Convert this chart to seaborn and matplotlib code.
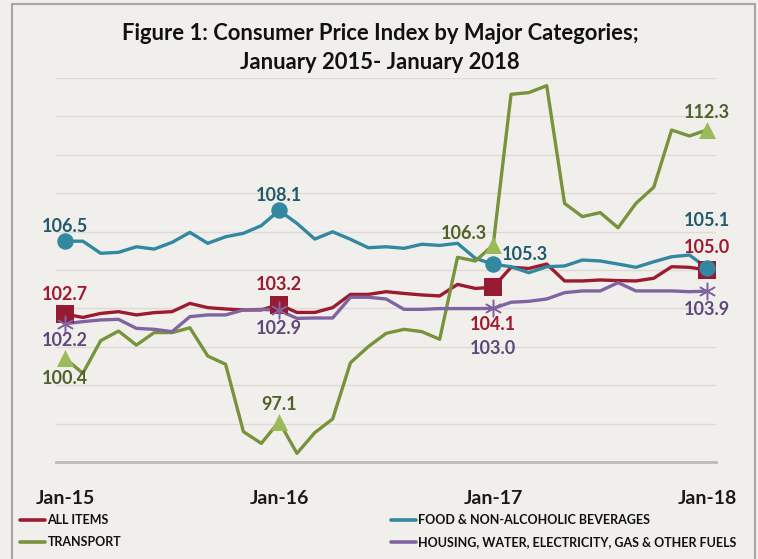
import numpy as np
import pandas as pd
import matplotlib
matplotlib.use("Agg")
import matplotlib.pyplot as plt
import seaborn as sns
from matplotlib.lines import Line2D
from matplotlib.patches import Rectangle

# ---------------- data ----------------
tick_labels = ["Jan-15", "Jan-16", "Jan-17", "Jan-18"]
tick_months = [0, 12, 24, 36]
series_names = ["ALL ITEMS", "FOOD & NON-ALCOHOLIC BEVERAGES", "TRANSPORT",
                "HOUSING, WATER, ELECTRICITY, GAS & OTHER FUELS"]

all_items = [102.7, 102.53, 102.74, 102.83, 102.66, 102.78, 102.83, 103.26, 103.04,
             102.97, 102.92, 102.92, 103.2, 102.79, 102.79, 103.04, 103.73, 103.73,
             103.87, 103.78, 103.7, 103.65, 104.25, 104.04, 104.1, 105.14, 105.08,
             105.31, 104.43, 104.43, 104.48, 104.45, 104.43, 104.57, 105.17, 105.14,
             105.0]
food = [106.5, 106.5, 105.87, 105.92, 106.21, 106.09, 106.44, 106.96, 106.39,
        106.73, 106.91, 107.31, 108.1, 107.43, 106.61, 106.99, 106.6, 106.16,
        106.21, 106.13, 106.34, 106.28, 106.39, 105.61, 105.3, 105.17, 104.86,
        105.17, 105.21, 105.52, 105.47, 105.31, 105.14, 105.43, 105.69, 105.78,
        105.1]
transport = [100.4, 99.62, 101.32, 101.82, 101.09, 101.74, 101.74, 101.99, 100.52,
             100.09, 96.58, 95.97, 97.1, 95.45, 96.53, 97.24, 100.17, 101.01,
             101.7, 101.91, 101.79, 101.39, 105.66, 105.47, 106.3, 114.15, 114.24,
             114.6, 108.47, 107.78, 107.99, 107.2, 108.47, 109.31, 112.29, 111.98,
             112.3]
housing = [102.2, 102.31, 102.4, 102.43, 101.96, 101.91, 101.79, 102.57, 102.66,
           102.66, 102.92, 102.95, 102.9, 102.48, 102.5, 102.5, 103.58, 103.58,
           103.49, 102.95, 102.95, 102.99, 102.99, 102.99, 103.0, 103.32, 103.37,
           103.49, 103.82, 103.91, 103.91, 104.34, 103.91, 103.91, 103.91, 103.87,
           103.9]
months = list(range(len(all_items)))

# ---------------- style ----------------
BG = "#F1EFEC"
line_colors = {series_names[0]: "#9B1B30", series_names[1]: "#3188A0",
               series_names[2]: "#77933C", series_names[3]: "#8064A2"}
marker_colors = {series_names[0]: "#961A32", series_names[1]: "#3188A0",
                 series_names[2]: "#9BBB59", series_names[3]: "#8064A2"}
label_colors = {series_names[0]: "#9B1B30", series_names[1]: "#215B6B",
                series_names[2]: "#4F6228", series_names[3]: "#5F497A"}
markers = {series_names[0]: "s", series_names[1]: "o",
           series_names[2]: "^", series_names[3]: (6, 2, 0)}
msizes = {series_names[0]: 160, series_names[1]: 140,
          series_names[2]: 150, series_names[3]: 140}
# label offsets in pixels (dx right, dy up) for Jan-15, Jan-16, Jan-17, Jan-18
label_offsets = {
    series_names[0]: [(0, 20), (0, 20), (0, -37), (0, 22)],
    series_names[1]: [(0, 15), (0, 15), (32, 10), (0, 48)],
    series_names[2]: [(0, -20), (0, 17), (-29, 12), (0, 17)],
    series_names[3]: [(0, -17), (0, -18), (0, -40), (0, -18)],
}

sns.set_style("white")
plt.rcParams["font.family"] = ["Lato", "DejaVu Sans"]

df = pd.DataFrame({
    "month": months * 4,
    "value": all_items + food + transport + housing,
    "series": sum([[n] * len(months) for n in series_names], []),
})

fig = plt.figure(figsize=(7.58, 5.59), dpi=100, facecolor=BG)
ax = fig.add_axes([56.1 / 758, (559 - 462) / 559, 660.1 / 758, 384 / 559])
ax.set_facecolor(BG)

for i, name in enumerate(series_names):
    sub = df[df.series == name]
    sns.lineplot(data=sub, x="month", y="value", color=line_colors[name],
                 linewidth=2.4, ax=ax, legend=False, zorder=3 + i)

for i, name in enumerate(series_names):
    sub = df[(df.series == name) & (df.month.isin(tick_months))]
    kw = dict(edgecolor=marker_colors[name], linewidth=0) if name != series_names[3] \
        else dict(linewidth=1.1)
    sns.scatterplot(data=sub, x="month", y="value", marker=markers[name],
                    color=marker_colors[name], s=msizes[name], ax=ax,
                    legend=False, zorder=10 + i, **kw)
    for (m, v), (dx, dy) in zip(zip(sub.month, sub.value), label_offsets[name]):
        ax.annotate(f"{v:.1f}", (m, v), xytext=(dx * 0.72, dy * 0.72),
                    textcoords="offset points", ha="center", va="center",
                    color=label_colors[name], fontsize=13, fontweight="bold",
                    zorder=20)

ax.set_xlim(-0.5, 36.5)
ax.set_ylim(95, 115)
ax.set_yticks(np.arange(95, 116, 2))
ax.set_yticklabels([])
ax.set_xticks(tick_months)
ax.set_xticklabels(tick_labels, fontsize=14, fontweight="bold", color="#1a1a1a")
ax.tick_params(axis="x", length=0, pad=20)
ax.tick_params(axis="y", length=0)
ax.grid(axis="y", color="#DDDAD6", linewidth=1)
ax.grid(axis="x", visible=False)
ax.set_xlabel("")
ax.set_ylabel("")
for s in ["left", "top", "right"]:
    ax.spines[s].set_visible(False)
ax.spines["bottom"].set_color("#BDBBB8")
ax.spines["bottom"].set_linewidth(2)
ax.spines["bottom"].set_zorder(2)

# title
fig.text(380 / 758, 1 - 33 / 559, "Figure 1: Consumer Price Index by Major Categories;",
         ha="center", va="center", fontsize=15.8, fontweight="bold", color="#111111")
fig.text(380 / 758, 1 - 62 / 559, "January 2015- January 2018",
         ha="center", va="center", fontsize=15.8, fontweight="bold", color="#111111")

# legends (two columns)
def mk(name):
    return Line2D([0], [0], color=line_colors[name], linewidth=2.6)

leg_kw = dict(frameon=False, fontsize=9, handlelength=2.0, handletextpad=0.2,
              labelspacing=0.8, borderaxespad=0, borderpad=0, loc="upper left")
leg1 = fig.legend([mk(series_names[0]), mk(series_names[2])],
                  [series_names[0], series_names[2]],
                  bbox_to_anchor=(20 / 758, 1 - 514 / 559), **leg_kw)
leg2 = fig.legend([mk(series_names[1]), mk(series_names[3])],
                  [series_names[1], series_names[3]],
                  bbox_to_anchor=(391 / 758, 1 - 514 / 559), **leg_kw)
for leg in (leg1, leg2):
    for t in leg.get_texts():
        t.set_fontweight("bold")
        t.set_color("#111111")

# outer frame
fig.patches.append(Rectangle((11.5 / 758, -0.05), (754.5 - 11.5) / 758,
                             1.05 - 3.5 / 559, transform=fig.transFigure,
                             fill=False, edgecolor="#A9A7A4", linewidth=1.5))

fig.savefig("out.png", dpi=100, facecolor=BG)
